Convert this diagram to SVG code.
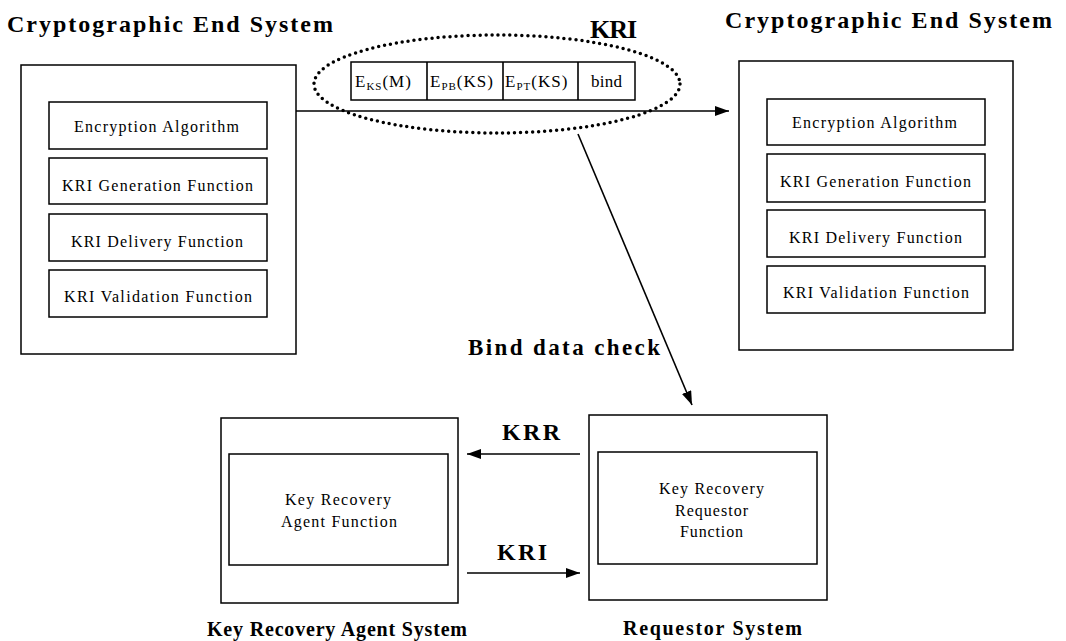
<svg xmlns="http://www.w3.org/2000/svg" width="1066" height="641" viewBox="0 0 1066 641">
<style>
.box{fill:#fff;stroke:#000;stroke-width:1.5}
.t{font-family:"Liberation Serif",serif;font-size:16px;fill:#000}
.h{font-family:"Liberation Serif",serif;font-size:24px;font-weight:bold;fill:#000}
.b{font-family:"Liberation Serif",serif;font-size:20px;font-weight:bold;fill:#000}
.c{font-family:"Liberation Serif",serif;font-size:17px;fill:#000}
.line{stroke:#000;stroke-width:1.6;fill:none}
</style>
<defs>
<marker id="ah" viewBox="0 0 14 10" refX="14" refY="5" markerWidth="14" markerHeight="10" markerUnits="userSpaceOnUse" orient="auto">
<path d="M0,0 L14,5 L0,10 Z" fill="#000"/>
</marker>
</defs>
<rect width="1066" height="641" fill="#fff"/>

<g id="left-system">
<text class="h" x="7" y="32" textLength="326" lengthAdjust="spacing">Cryptographic End System</text>
<rect class="box" x="21" y="65" width="275" height="289"/>
<rect class="box" x="49" y="102" width="218" height="47"/>
<text class="t" x="74" y="132" textLength="165" lengthAdjust="spacing">Encryption Algorithm</text>
<rect class="box" x="49" y="158" width="218" height="46"/>
<text class="t" x="62" y="191" textLength="191" lengthAdjust="spacing">KRI Generation Function</text>
<rect class="box" x="49" y="214" width="218" height="47"/>
<text class="t" x="71" y="247" textLength="172" lengthAdjust="spacing">KRI Delivery Function</text>
<rect class="box" x="49" y="270" width="218" height="47"/>
<text class="t" x="64" y="302" textLength="188" lengthAdjust="spacing">KRI Validation Function</text>
</g>

<g id="right-system">
<text class="h" x="725" y="28" textLength="327" lengthAdjust="spacing">Cryptographic End System</text>
<rect class="box" x="739" y="61" width="274" height="289"/>
<rect class="box" x="767" y="99" width="218" height="46"/>
<text class="t" x="792" y="128" textLength="165" lengthAdjust="spacing">Encryption Algorithm</text>
<rect class="box" x="767" y="154" width="218" height="48"/>
<text class="t" x="780" y="187" textLength="191" lengthAdjust="spacing">KRI Generation Function</text>
<rect class="box" x="767" y="210" width="218" height="47"/>
<text class="t" x="789" y="243" textLength="173" lengthAdjust="spacing">KRI Delivery Function</text>
<rect class="box" x="767" y="266" width="218" height="47"/>
<text class="t" x="783" y="298" textLength="186" lengthAdjust="spacing">KRI Validation Function</text>
</g>

<g id="kra-system">
<rect class="box" x="221" y="418" width="237" height="185"/>
<rect class="box" x="229" y="454" width="219" height="111"/>
<text class="t" x="285" y="505" textLength="106" lengthAdjust="spacing">Key Recovery</text>
<text class="t" x="281" y="527" textLength="116" lengthAdjust="spacing">Agent Function</text>
<text class="b" x="207" y="636" textLength="260" lengthAdjust="spacing">Key Recovery Agent System</text>
</g>

<g id="requestor-system">
<rect class="box" x="589" y="415" width="238" height="185"/>
<rect class="box" x="598" y="452" width="219" height="112"/>
<text class="t" x="659" y="494" textLength="105" lengthAdjust="spacing">Key Recovery</text>
<text class="t" x="675" y="516" textLength="73" lengthAdjust="spacing">Requestor</text>
<text class="t" x="680" y="537" textLength="63" lengthAdjust="spacing">Function</text>
<text class="b" x="623" y="635" textLength="179" lengthAdjust="spacing">Requestor System</text>
</g>

<g id="kri-packet">
<ellipse cx="497" cy="84" rx="183" ry="49" fill="none" stroke="#000" stroke-width="3.5" stroke-dasharray="0 6" stroke-linecap="round"/>
<rect class="box" x="351" y="62" width="284" height="38"/>
<line class="line" x1="427" y1="62" x2="427" y2="100"/>
<line class="line" x1="503" y1="62" x2="503" y2="100"/>
<line class="line" x1="578" y1="62" x2="578" y2="100"/>
<text class="c" x="355" y="87" letter-spacing="1">E<tspan font-size="11" dy="3">KS</tspan><tspan dy="-3">(M)</tspan></text>
<text class="c" x="430" y="87" letter-spacing="1">E<tspan font-size="11" dy="3">PB</tspan><tspan dy="-3">(KS)</tspan></text>
<text class="c" x="505" y="87" letter-spacing="1">E<tspan font-size="11" dy="3">PT</tspan><tspan dy="-3">(KS)</tspan></text>
<text class="c" x="591" y="87" textLength="31" lengthAdjust="spacing">bind</text>
<text class="h" x="590" y="38" textLength="47" lengthAdjust="spacing" style="font-size:26px">KRI</text>
</g>

<g id="connectors">
<line class="line" x1="296" y1="111" x2="729" y2="111" marker-end="url(#ah)"/>
<line class="line" x1="578" y1="134" x2="692" y2="405" marker-end="url(#ah)"/>
<line class="line" x1="580" y1="454" x2="467" y2="454" marker-end="url(#ah)"/>
<line class="line" x1="467" y1="573" x2="580" y2="573" marker-end="url(#ah)"/>
<text class="h" x="468" y="355" textLength="192" lengthAdjust="spacing" style="font-size:23px">Bind data check</text>
<text class="h" x="502" y="440" textLength="58" lengthAdjust="spacing">KRR</text>
<text class="h" x="497" y="560" textLength="50" lengthAdjust="spacing">KRI</text>
</g>
</svg>
